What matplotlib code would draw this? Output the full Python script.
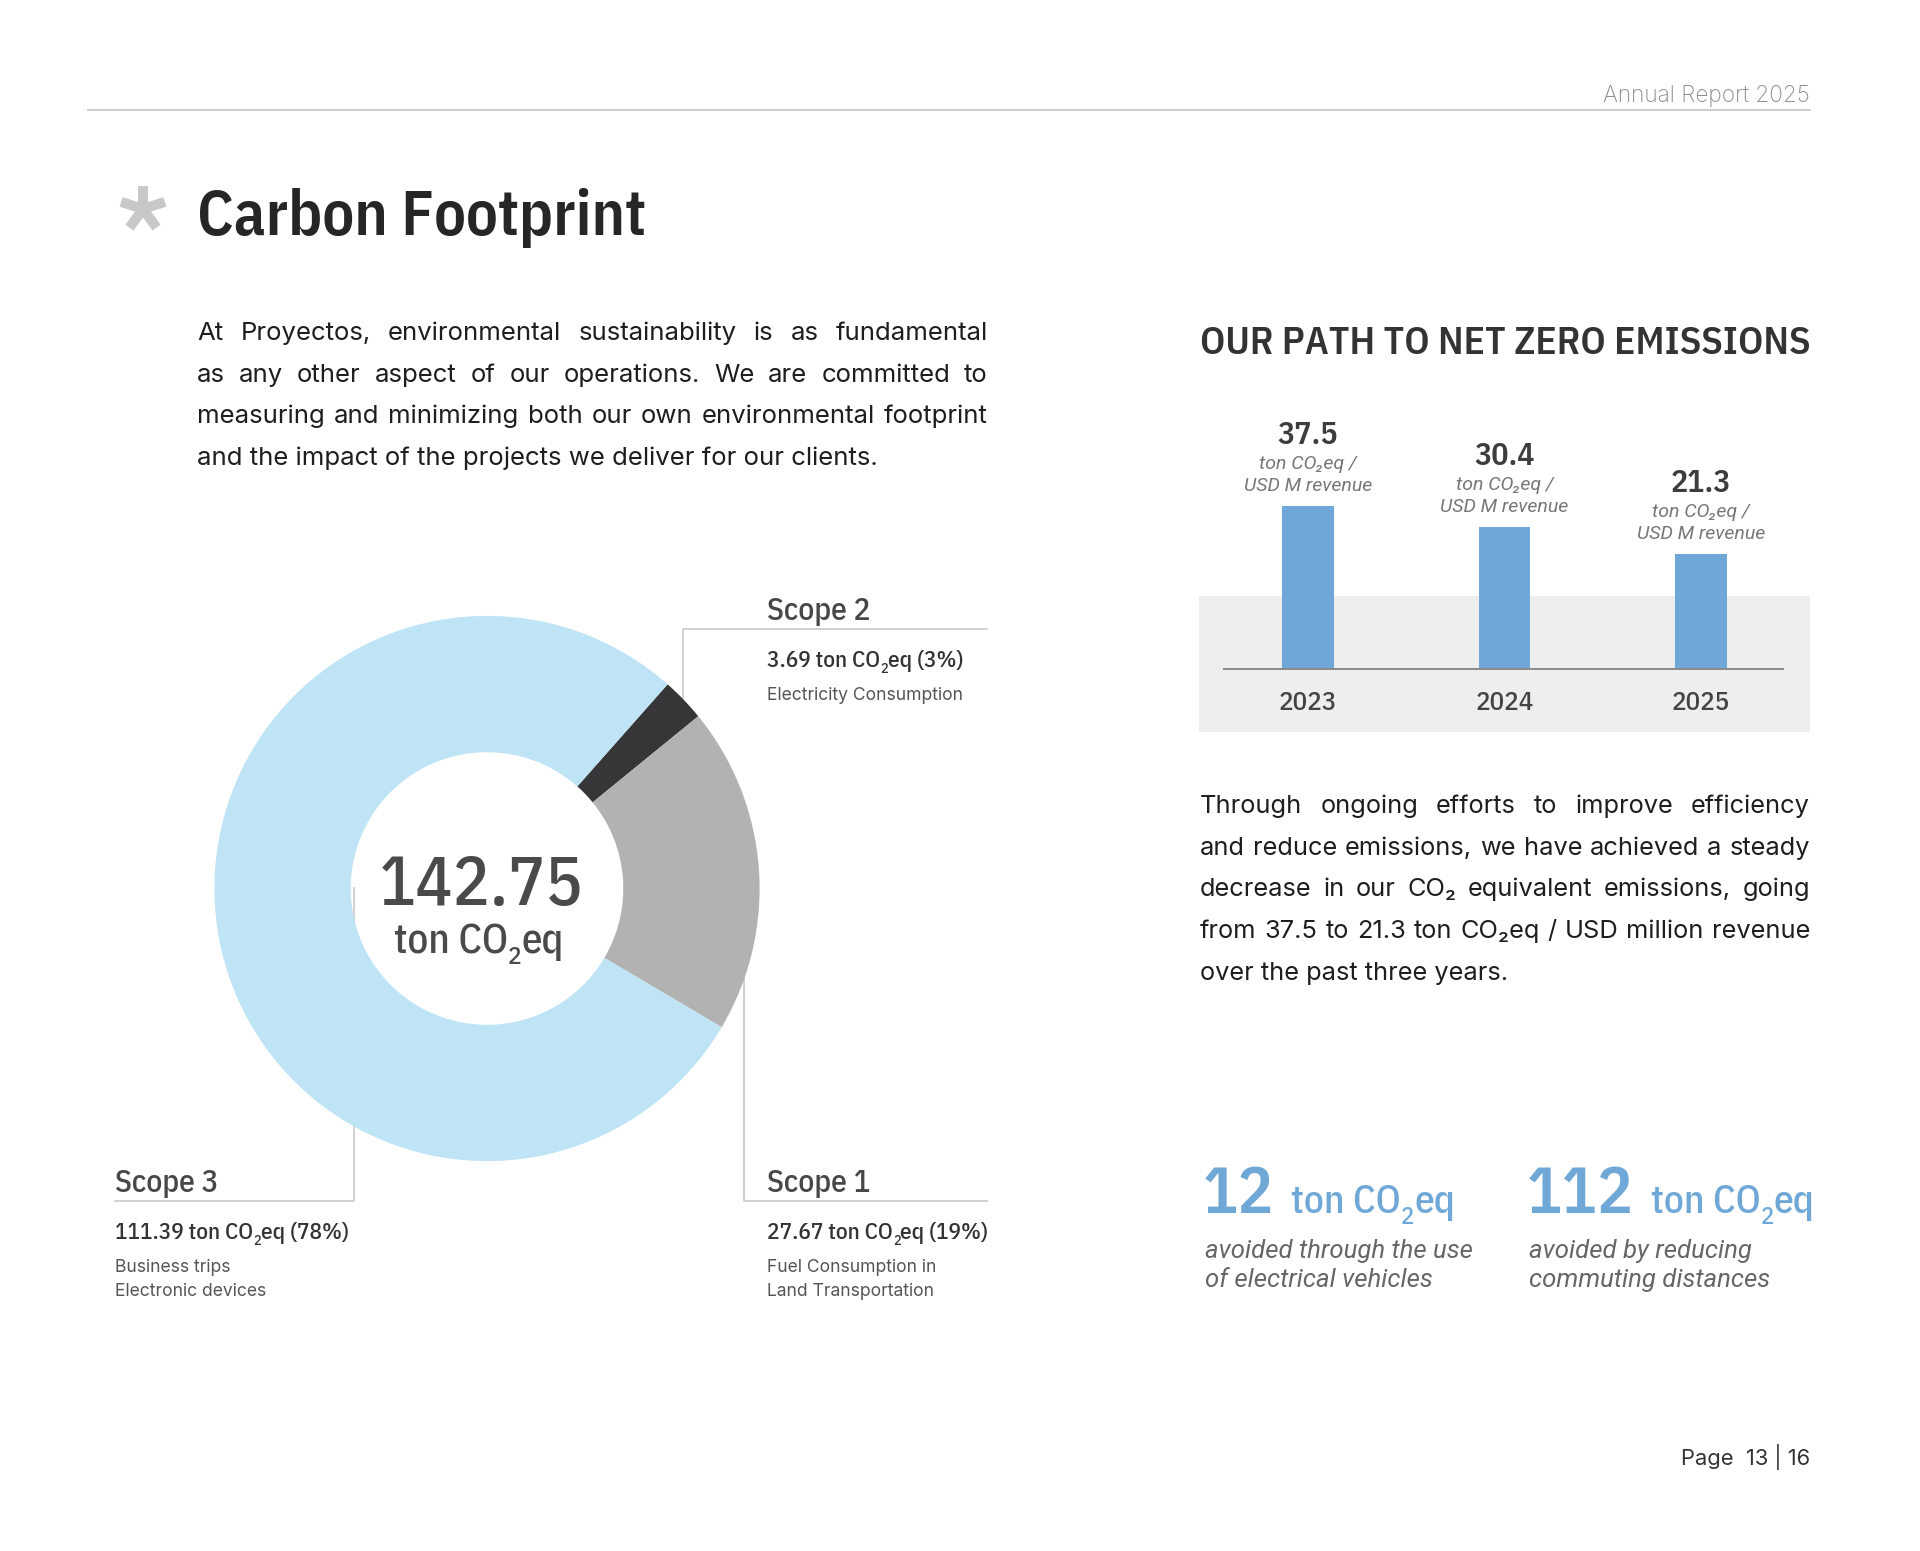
import math
import matplotlib
matplotlib.use("Agg")
import matplotlib.pyplot as plt
from matplotlib.patches import Rectangle

# data
scope_names = ["Scope 1", "Scope 2", "Scope 3"]
scope_values = [27.67, 3.69, 111.39]
scope_desc = [["Fuel Consumption in", "Land Transportation"],
              ["Electricity Consumption"],
              ["Business trips", "Electronic devices"]]
years = ["2023", "2024", "2025"]
intensity = [37.5, 30.4, 21.3]
avoided = [12, 112]
avoided_desc = [["avoided through the use", "of electrical vehicles"],
                ["avoided by reducing", "commuting distances"]]

intro = ["At Proyectos, environmental sustainability is as fundamental",
         "as any other aspect of our operations. We are committed to",
         "measuring and minimizing both our own environmental footprint",
         "and the impact of the projects we deliver for our clients."]
path_text = ["Through ongoing efforts to improve efficiency",
             "and reduce emissions, we have achieved a steady",
             "decrease in our CO₂ equivalent emissions, going",
             "from 37.5 to 21.3 ton CO₂eq / USD million revenue",
             "over the past three years."]

COND = "IBM Plex Sans Condensed"
BODY = "Inter"
ITAL = "Roboto"
BLUE = "#6fa8d6"
RIGHT = 1810

W, H = 1920, 1551
fig = plt.figure(figsize=(W / 100, H / 100), dpi=100)
bg = fig.add_axes([0, 0, 1, 1])
bg.set_xlim(0, W)
bg.set_ylim(H, 0)
bg.axis("off")
rend = fig.canvas.get_renderer()


def pt(v):
    # pixel size -> points
    return v * 0.72


def measure(s, size, **kw):
    t = bg.text(0, 0, s, fontsize=size, **kw)
    w = t.get_window_extent(rend).width
    t.remove()
    return w


def fit(s, width, **kw):
    return 10 * width / measure(s, 10, **kw)


def sub_text(x, y, pre, sub, post, size, ha="left", **kw):
    # text with a lowered "2"
    w1 = measure(pre, size, **kw)
    w2 = measure(sub, size * 0.62, **kw)
    w3 = measure(post, size, **kw)
    if ha == "center":
        x -= (w1 + w2 + w3) / 2
    bg.text(x, y, pre, fontsize=size, va="baseline", **kw)
    bg.text(x + w1, y + size / 0.72 * 0.27, sub, fontsize=size * 0.62, va="baseline", **kw)
    bg.text(x + w1 + w2, y, post, fontsize=size, va="baseline", **kw)


def justify(lines, x0, x1, y0, step, size, **kw):
    for k, line in enumerate(lines):
        y = y0 + k * step
        if k == len(lines) - 1:
            bg.text(x0, y, line, fontsize=size, va="baseline", **kw)
            continue
        words = line.split(" ")
        ws = [measure(w, size, **kw) for w in words]
        gap = (x1 - x0 - sum(ws)) / (len(words) - 1)
        x = x0
        for w, wd in zip(words, ws):
            bg.text(x, y, w, fontsize=size, va="baseline", **kw)
            x += wd + gap


# header
bg.plot([88, RIGHT], [110, 110], color="#cfcfcf", lw=pt(2))
ar_kw = dict(family=BODY, weight="light", color="#8c8c8c")
bg.text(RIGHT, 102, "Annual Report 2025", ha="right", va="baseline",
        fontsize=fit("Annual Report 2025", 208, **ar_kw), **ar_kw)

# title with asterisk
for ang in [90, 162, 234, 306, 18]:
    a = math.radians(ang)
    bg.plot([143, 143 + 23 * math.cos(a)], [209, 209 - 23 * math.sin(a)],
            color="#c8c8c8", lw=pt(10), solid_capstyle="butt")
bg.text(197, 235, "Carbon Footprint", family=COND, weight="semibold", fontsize=pt(63),
        color="#262626", va="baseline")

# intro paragraph
body_kw = dict(family=BODY, color="#1e1e1e")
s1 = fit(intro[2], 784, **body_kw)
justify(intro, 197, 988, 340, 41.7, s1, **body_kw)

# donut
cx, cy, R0 = 487, 888.5, 272.6
# callout lines (drawn under the donut)
gray_line = dict(color="#c8c8c8", lw=pt(1.6))
bg.plot([683, 683, 987], [888, 629, 629], **gray_line)
bg.plot([744, 744, 987], [888, 1201, 1201], **gray_line)
bg.plot([354, 354, 115], [888, 1201, 1201], **gray_line)

dax = fig.add_axes([(cx - R0) / W, (H - cy - R0) / H, 2 * R0 / W, 2 * R0 / H])
dax.pie([scope_values[1], scope_values[0], scope_values[2]],
        colors=["#363638", "#b2b2b2", "#bee4f6"], startangle=48.5, counterclock=False,
        radius=1, wedgeprops=dict(width=0.5, linewidth=0))
dax.set_xlim(-1, 1)
dax.set_ylim(-1, 1)
dax.axis("off")

total = sum(scope_values)
bg.text(481, 905, f"{total:.2f}", ha="center", va="baseline", family=COND, weight="medium",
        fontsize=pt(69), color="#4a4a4c")
sub_text(479, 953, "ton CO", "2", "eq", pt(41), ha="center", family=COND, weight="medium",
         color="#4a4a4c")

# scope labels: (x, line y)
label_pos = [(767, 1201), (767, 629), (115, 1201)]
for name, val, desc, (lx, ly) in zip(scope_names, scope_values, scope_desc, label_pos):
    pct = round(val / total * 100)
    bg.text(lx, ly - 9, name, family=COND, weight="medium", fontsize=pt(31.5), color="#474747",
            va="baseline")
    sub_text(lx, ly + 38, f"{val:.2f} ton CO", "2", f"eq ({pct}%)", pt(23.3), family=COND,
             weight="medium", color="#333333")
    for k, d in enumerate(desc):
        bg.text(lx, ly + 71 + 24 * k, d, family=BODY, fontsize=pt(17.5), color="#555555",
                va="baseline")

# right side title
rt_kw = dict(family=COND, weight="semibold", color="#333333")
rt_size = min(fit("OUR PATH TO NET ZERO EMISSIONS", 610, **rt_kw), pt(51))
bg.text(RIGHT, 354, "OUR PATH TO NET ZERO EMISSIONS", ha="right", va="baseline",
        fontsize=rt_size, **rt_kw)

# bar chart
bg.add_patch(Rectangle((1199, 596), RIGHT - 1199, 136, color="#eeeeee", lw=0, zorder=0))
bax = fig.add_axes([1224 / W, (H - 669) / H, 559 / W, 289 / H])
bax.patch.set_alpha(0)
base = -17.5
bax.bar(range(len(years)), [v - base for v in intensity], bottom=base, width=0.262, color=BLUE)
bax.set_xlim(-0.426, 2.416)
bax.set_ylim(base, base + 289 / 2.963)
for side in ["top", "left", "right"]:
    bax.spines[side].set_visible(False)
bax.spines["bottom"].set_color("#8c8c8c")
bax.spines["bottom"].set_linewidth(pt(2))
bax.set_xticks([])
bax.set_yticks([])
unit_kw = dict(family=ITAL, style="italic", weight="normal", fontsize=pt(19.5), color="#777777")
for i, v in enumerate(intensity):
    bax.annotate(f"{v:.1f}", xy=(i, v), xytext=(0, 62), textcoords="offset pixels", ha="center",
                 va="baseline", family=COND, weight="semibold", fontsize=pt(32), color="#3d3d3d")
    bax.annotate("ton CO₂eq /", xy=(i, v), xytext=(0, 37), textcoords="offset pixels",
                 ha="center", va="baseline", **unit_kw)
    bax.annotate("USD M revenue", xy=(i, v), xytext=(0, 15), textcoords="offset pixels",
                 ha="center", va="baseline", **unit_kw)
    bax.annotate(years[i], xy=(i, base), xytext=(0, -41), textcoords="offset pixels",
                 ha="center", va="baseline", family=COND, weight="medium", fontsize=pt(27),
                 color="#444444")

# second paragraph
s2 = fit(path_text[3], 604, **body_kw)
justify(path_text, 1200, RIGHT, 813, 41.7, s2, **body_kw)

# avoided emissions
it_kw = dict(family=ITAL, style="italic", weight="normal", color="#666666")
s3 = fit(avoided_desc[0][0], 266, **it_kw)
for x0, num, desc in zip([1203, 1527], avoided, avoided_desc):
    big_kw = dict(family=COND, weight="semibold", color=BLUE)
    bg.text(x0, 1213, str(num), fontsize=pt(66), va="baseline", **big_kw)
    xn = x0 + measure(str(num), pt(66), **big_kw) + 17
    sub_text(xn, 1213, "ton CO", "2", "eq", pt(39.5), family=COND, weight="medium", color=BLUE)
    for k, d in enumerate(desc):
        bg.text(x0 + 2, 1258 + 29 * k, d, fontsize=s3, va="baseline", **it_kw)

# page number
bg.text(RIGHT, 1465, "Page  13 | 16", ha="right", va="baseline", family=BODY, fontsize=pt(22),
        color="#333333")

fig.savefig("out.png", dpi=100)
